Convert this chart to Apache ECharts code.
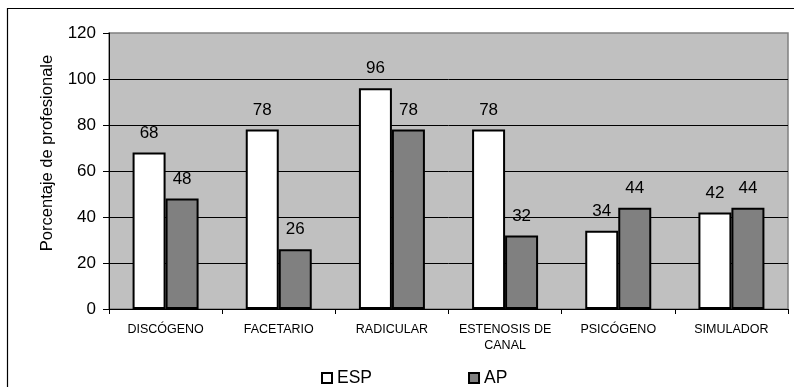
<!DOCTYPE html>
<html>
<head>
<meta charset="utf-8">
<script src="https://cdn.jsdelivr.net/npm/echarts@6/dist/echarts.min.js"></script>
<style>
  html, body { margin: 0; padding: 0; background: #fff; }
  #chart { width: 794px; height: 387px; }
</style>
</head>
<body>
<div id="chart"></div>
<script>
// Diagnoses and percentage of professionals per group
const categories = ['DISCÓGENO', 'FACETARIO', 'RADICULAR', 'ESTENOSIS DE\nCANAL', 'PSICÓGENO', 'SIMULADOR'];
const espValues = [68, 78, 96, 78, 34, 42];
const apValues = [48, 26, 78, 32, 44, 44];
const yTicks = { min: 0, max: 120, interval: 20 };
const yAxisTitle = 'Porcentaje de profesionales';

const FONT = "'Liberation Sans', Arial, sans-serif";
const chart = echarts.init(document.getElementById('chart'), null, { renderer: 'canvas' });

const barLabel = {
  show: true,
  position: 'top',
  distance: 11,
  color: '#000',
  fontFamily: FONT,
  fontSize: 17
};

chart.setOption({
  animation: false,
  backgroundColor: '#fff',
  textStyle: { fontFamily: FONT },
  grid: {
    left: 109, right: 6, top: 33, bottom: 78,
    show: true,
    backgroundColor: '#c0c0c0',
    borderColor: '#808080',
    borderWidth: 1.5
  },
  graphic: [
    {
      // outer frame (only its top and left edges fall inside the canvas)
      type: 'rect',
      shape: { x: 7.5, y: 8.5, width: 900, height: 500 },
      style: { fill: 'none', stroke: '#000', lineWidth: 1.2 },
      silent: true, z: 100
    },
    {
      type: 'text',
      x: 47, y: 153,
      rotation: Math.PI / 2,
      style: {
        text: yAxisTitle,
        fill: '#000',
        font: '16.5px ' + FONT,
        align: 'center',
        verticalAlign: 'middle',
        width: 198,
        overflow: 'truncate',
        ellipsis: ''
      },
      silent: true
    }
  ],
  legend: {
    left: 316, top: 364,
    itemWidth: 10, itemHeight: 10,
    itemGap: 96,
    icon: 'rect',
    textStyle: { color: '#000', fontFamily: FONT, fontSize: 17.5, lineHeight: 18, padding: [0, 0, 0, 0] },
    data: ['ESP', 'AP']
  },
  xAxis: {
    type: 'category',
    data: categories,
    axisLine: { show: true, lineStyle: { color: '#000', width: 1 } },
    axisTick: { show: true, length: 5, lineStyle: { color: '#000' } },
    axisLabel: {
      color: '#000', fontFamily: FONT, fontSize: 12.5, lineHeight: 16.5,
      margin: 12, interval: 0
    },
    splitLine: { show: false }
  },
  yAxis: {
    type: 'value',
    min: yTicks.min, max: yTicks.max, interval: yTicks.interval,
    axisLine: { show: true, lineStyle: { color: '#000', width: 1 } },
    axisTick: { show: true, length: 6, lineStyle: { color: '#000' } },
    axisLabel: { color: '#000', fontFamily: FONT, fontSize: 17, margin: 13 },
    splitLine: { show: true, showMinLine: false, showMaxLine: false, lineStyle: { color: '#000', width: 1 } }
  },
  series: [
    {
      name: 'ESP',
      type: 'bar',
      data: espValues,
      barWidth: 33,
      barGap: '0%',
      itemStyle: { color: '#ffffff', borderColor: '#000', borderWidth: 2 },
      label: barLabel
    },
    {
      name: 'AP',
      type: 'bar',
      data: apValues,
      barWidth: 33,
      barGap: '0%',
      itemStyle: { color: '#808080', borderColor: '#000', borderWidth: 2 },
      label: barLabel
    }
  ]
});
</script>
</body>
</html>
